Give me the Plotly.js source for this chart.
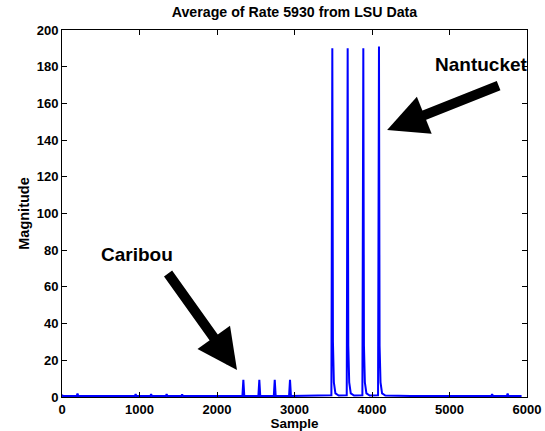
<!DOCTYPE html>
<html>
<head>
<meta charset="utf-8">
<script src="https://cdn.plot.ly/plotly-3.0.1.min.js"></script>
<style>html,body{margin:0;padding:0;background:#fff;}#chart{width:545px;height:431px;}</style>
</head>
<body>
<div id="chart"></div>
<script>
// Sample index and magnitude values
const sampleX = [0, 10, 190, 200, 210, 940, 950, 960, 1140, 1150, 1160, 1340, 1350, 1360, 1540, 1550, 1560,
  2328, 2340, 2352, 2534, 2546, 2558, 2733, 2745, 2757, 2930, 2942, 2954,
  3476, 3488, 3496, 3508, 3528, 3570,
  3674, 3686, 3694, 3706, 3726, 3768,
  3876, 3888, 3896, 3908, 3928, 3970,
  4078, 4090, 4098, 4110, 4130, 4172, 4300, 4500,
  5540, 5550, 5560, 5740, 5750, 5760, 5930];
const magnitude = [1.2, 0.6, 0.6, 1.8, 0.6, 0.6, 1.5, 0.6, 0.6, 1.5, 0.6, 0.6, 1.5, 0.6, 0.6, 1.4, 0.6,
  0.6, 9.3, 0.6, 0.6, 9.3, 0.6, 0.6, 9.3, 0.6, 0.6, 9.3, 0.6,
  1.0, 190, 30, 8, 2, 0.8,
  1.0, 190, 28, 8, 2, 0.8,
  1.0, 190, 28, 8, 2, 0.8,
  1.0, 191, 28, 8, 2, 0.8, 0.6, 0.6,
  0.6, 1.6, 0.6, 0.6, 1.8, 0.6, 0.6];
const xTicks = [0, 1000, 2000, 3000, 4000, 5000, 6000];
const yTicks = [0, 20, 40, 60, 80, 100, 120, 140, 160, 180, 200];

const FONT = 'Arial, Liberation Sans, sans-serif';
const axisCommon = {
  showgrid: false, zeroline: false, showline: true, linecolor: '#000', linewidth: 1,
  mirror: 'ticks', ticks: 'inside', ticklen: 5, tickcolor: '#000',
  tickfont: {family: FONT, size: 13, color: '#000', weight: 'bold'}
};

const layout = {
  width: 545, height: 431,
  margin: {l: 62, r: 18, t: 30, b: 34},
  paper_bgcolor: '#fff', plot_bgcolor: '#fff',
  showlegend: false,
  title: {text: '<b>Average of Rate 5930 from LSU Data</b>', x: 0.5, xanchor: 'center', xref: 'paper',
    y: 0.972, yanchor: 'middle', font: {family: FONT, size: 14.2, color: '#000', weight: 'bold'}},
  xaxis: Object.assign({}, axisCommon, {range: [0, 6000], tickvals: xTicks,
    ticktext: xTicks.map(v => '<b>' + v + '</b>'),
    title: {text: '<b>Sample</b>', standoff: 0, font: {family: FONT, size: 13.5, color: '#000', weight: 'bold'}}}),
  yaxis: Object.assign({}, axisCommon, {range: [0, 200], tickvals: yTicks,
    ticktext: yTicks.map(v => '<b>' + v + '</b>'),
    title: {text: '<b>Magnitude</b>', standoff: 3, font: {family: FONT, size: 14.5, color: '#000', weight: 'bold'}}}),
  annotations: [
    {x: 2258, y: 14.7, xref: 'x', yref: 'y', ax: -70, ay: -98, axref: 'pixel', ayref: 'pixel',
      showarrow: true, arrowhead: 2, arrowsize: 0.8, arrowwidth: 10, arrowcolor: '#000', text: ''},
    {x: 4195, y: 145.5, xref: 'x', yref: 'y', ax: 113, ay: -45, axref: 'pixel', ayref: 'pixel',
      showarrow: true, arrowhead: 2, arrowsize: 0.8, arrowwidth: 10, arrowcolor: '#000', text: ''},
    {x: 963, y: 77.4, xref: 'x', yref: 'y', showarrow: false, text: '<b>Caribou</b>',
      font: {family: FONT, size: 19, color: '#000'}},
    {x: 5416, y: 181, xref: 'x', yref: 'y', showarrow: false, text: '<b>Nantucket</b>',
      font: {family: FONT, size: 19, color: '#000'}}
  ]
};

Plotly.newPlot('chart', [{
  x: sampleX, y: magnitude, type: 'scatter', mode: 'lines',
  line: {color: '#0000ff', width: 2}
}], layout, {staticPlot: true});
</script>
</body>
</html>
